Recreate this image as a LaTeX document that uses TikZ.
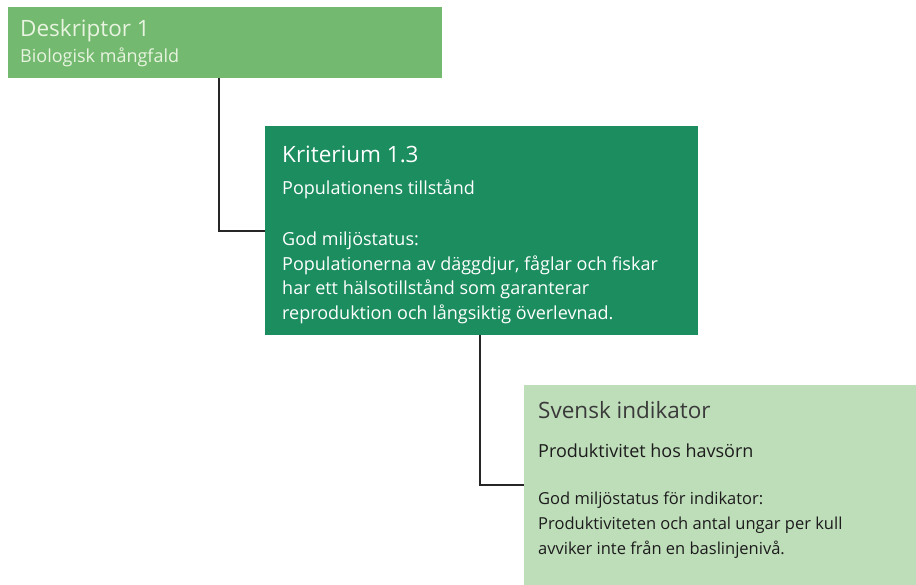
\documentclass[tikz,border=0pt]{standalone}
\usepackage{fontspec}
\setmainfont{Open Sans}
\usetikzlibrary{positioning}
\definecolor{deskgreen}{HTML}{73B96F}
\definecolor{kritgreen}{HTML}{1B8D5F}
\definecolor{indgreen}{HTML}{BEDDB9}
\definecolor{desktext}{HTML}{E8F4E0}
\definecolor{indtext}{HTML}{3A3A3A}
\definecolor{indbody}{HTML}{1C1C1C}
\tikzstyle{box} = [rectangle, anchor=north west, inner sep=0pt, draw=none]
\tikzstyle{heading} = [anchor=base west, inner sep=0pt, font=\fontsize{22.5}{27}\selectfont]
\tikzstyle{body} = [anchor=base west, inner sep=0pt, font=\fontsize{18}{24.5}\selectfont, align=left]
\tikzstyle{smallbody} = [anchor=north west, inner sep=0pt, font=\fontsize{16.5}{24.8}\selectfont, align=left]
\tikzstyle{link} = [line width=2pt, draw=black!85]

\begin{document}
\begin{tikzpicture}[x=1pt, y=-1pt]
\useasboundingbox (0,0) rectangle (916,585);

% descriptor
\node (desk) [box, fill=deskgreen, minimum width=434pt, minimum height=71pt] at (8,7) {};
\node (desktitle) [heading, text=desktext] at (20,37) {Deskriptor 1};
\node (desksub) [body, text=desktext] at (20,63) {Biologisk mångfald};

% criterion
\node (krit) [box, fill=kritgreen, minimum width=433pt, minimum height=209pt] at (265,126) {};
\node (krittitle) [heading, text=white] at (282,163) {Kriterium 1.3};
\node (kritsub) [body, text=white] at (282,195) {Populationens tillstånd};
\node (kritgms) [body, text=white, anchor=north west] at (282,232) {God miljöstatus:\\
Populationerna av däggdjur, fåglar och fiskar\\
har ett hälsotillstånd som garanterar\\
reproduktion och långsiktig överlevnad.};

% indicator
\node (ind) [box, fill=indgreen, minimum width=392pt, minimum height=200pt] at (524,385) {};
\node (indtitle) [heading, text=indtext] at (538,418) {Svensk indikator};
\node (indsub) [body, text=indbody] at (538,457) {Produktivitet hos havsörn};
\node (indgms) [smallbody, text=indbody] at (538,492) {God miljöstatus för indikator:\\
Produktiviteten och antal ungar per kull\\
avviker inte från en baslinjenivå.};

\draw [link] ([xshift=211pt]desk.south west) |- (krit.west);
\draw [link] ([xshift=215pt]krit.south west) |- (ind.west);

\end{tikzpicture}
\end{document}
